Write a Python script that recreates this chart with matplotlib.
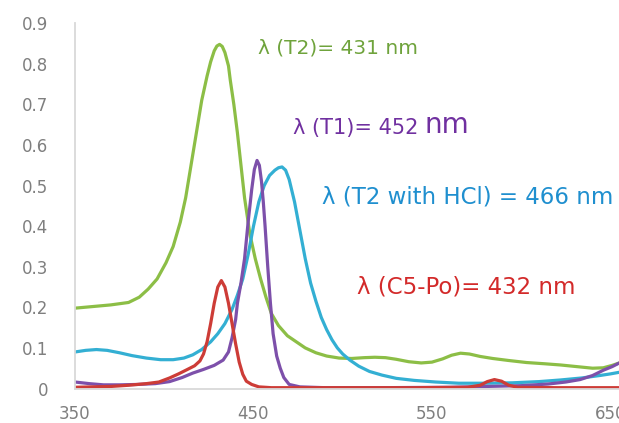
import matplotlib
matplotlib.use("Agg")
import matplotlib.pyplot as plt
from matplotlib.ticker import FixedLocator, FixedFormatter

# Absorption spectra (wavelength in nm, absorbance)
t2_nm = [350, 360, 370, 380, 386, 391, 396, 401, 405, 409, 412, 415, 418, 421, 424,
         426, 428, 429.5, 431, 432.5, 434, 436, 437, 439, 441, 443, 445, 448, 451, 454,
         457, 460, 464, 469, 474, 479, 485, 491, 498, 505, 512, 518, 524, 530, 537, 544,
         550, 556, 561, 566, 571, 577, 584, 593, 603, 613, 622, 631, 640, 646, 651, 655]
t2_abs = [0.198, 0.202, 0.206, 0.212, 0.225, 0.245, 0.27, 0.31, 0.35, 0.41, 0.47, 0.55,
          0.63, 0.71, 0.77, 0.805, 0.832, 0.844, 0.848, 0.843, 0.828, 0.795, 0.76, 0.70,
          0.63, 0.55, 0.47, 0.38, 0.32, 0.27, 0.225, 0.185, 0.155, 0.13, 0.115, 0.10,
          0.088, 0.08, 0.075, 0.074, 0.076, 0.077, 0.076, 0.072, 0.066, 0.063, 0.065,
          0.073, 0.082, 0.087, 0.085, 0.079, 0.074, 0.069, 0.064, 0.061, 0.058, 0.054,
          0.05, 0.051, 0.057, 0.063]

t2hcl_nm = [350, 356, 362, 368, 375, 382, 390, 398, 405, 411, 416, 421, 426, 430, 434,
            438, 441, 444, 447, 450, 453, 456, 459, 462, 464, 466, 468, 470, 473, 476,
            479, 482, 485, 488, 491, 494, 497, 500, 504, 509, 515, 522, 530, 540, 552,
            565, 580, 595, 610, 622, 634, 644, 650, 655]
t2hcl_abs = [0.09, 0.094, 0.096, 0.094, 0.088, 0.081, 0.075, 0.071, 0.071, 0.075, 0.083,
             0.096, 0.115, 0.135, 0.16, 0.195, 0.23, 0.27, 0.33, 0.40, 0.46, 0.50, 0.525,
             0.538, 0.544, 0.546, 0.538, 0.515, 0.46, 0.39, 0.32, 0.26, 0.215, 0.175,
             0.145, 0.12, 0.10, 0.085, 0.07, 0.055, 0.042, 0.033, 0.025, 0.02, 0.016,
             0.013, 0.013, 0.014, 0.017, 0.021, 0.026, 0.032, 0.036, 0.04]

t1_nm = [350, 358, 366, 375, 385, 395, 403, 410, 416, 422, 428, 433, 436, 438, 440,
         441, 443, 445, 447, 449, 450.5, 452, 453.3, 454.5, 455.5, 456.5, 458, 459.5, 461,
         463, 465, 467, 470, 476, 490, 520, 560, 580, 600, 615, 625, 633, 640, 646, 651,
         655]
t1_abs = [0.016, 0.012, 0.009, 0.009, 0.01, 0.012, 0.017, 0.027, 0.038, 0.047, 0.057,
          0.07, 0.09, 0.125, 0.17, 0.21, 0.26, 0.32, 0.41, 0.49, 0.54, 0.562, 0.55,
          0.51, 0.46, 0.40, 0.30, 0.21, 0.135, 0.08, 0.05, 0.027, 0.01, 0.004, 0.002,
          0.002, 0.003, 0.005, 0.007, 0.011, 0.016, 0.022, 0.032, 0.045, 0.054, 0.063]

c5po_nm = [350, 360, 370, 380, 390, 397, 403, 408, 413, 417, 420, 422, 424, 426, 428,
           430, 432, 434, 436, 438, 440, 442, 444, 446, 449, 453, 460, 500, 540, 570,
           577, 581, 585, 589, 593, 598, 620, 655]
c5po_abs = [0.003, 0.004, 0.005, 0.008, 0.012, 0.016, 0.026, 0.036, 0.047, 0.056, 0.068,
            0.085, 0.115, 0.16, 0.21, 0.25, 0.266, 0.25, 0.21, 0.16, 0.11, 0.065, 0.035,
            0.018, 0.01, 0.004, 0.002, 0.002, 0.002, 0.003, 0.008, 0.017, 0.022, 0.018,
            0.008, 0.003, 0.002, 0.002]

x_ticks = [350, 450, 550, 650]
y_ticks = [0, 0.1, 0.2, 0.3, 0.4, 0.5, 0.6, 0.7, 0.8, 0.9]
y_tick_labels = ["0", "0.1", "0.2", "0.3", "0.4", "0.5", "0.6", "0.7", "0.8", "0.9"]

fig = plt.figure(figsize=(6.19, 4.23), dpi=100)
ax = fig.add_axes([75 / 619, 34.5 / 423, 544 / 619, 365.2 / 423])

style = dict(lw=2.3, solid_capstyle="round", solid_joinstyle="round")
ax.plot(t2_nm, t2_abs, color="#8CBE46", **style)
ax.plot(t2hcl_nm, t2hcl_abs, color="#33AFD3", **style)
ax.plot(t1_nm, t1_abs, color="#7D50AA", **style)
ax.plot(c5po_nm, c5po_abs, color="#CD3C37", **style)

ax.set_xlim(350, 654.8)
ax.set_ylim(0, 0.9)

for side in ("top", "right"):
    ax.spines[side].set_visible(False)
for side in ("left", "bottom"):
    ax.spines[side].set_color("#D9D9D9")
    ax.spines[side].set_linewidth(1.3)

ax.xaxis.set_major_locator(FixedLocator(x_ticks))
ax.yaxis.set_major_locator(FixedLocator(y_ticks))
ax.yaxis.set_major_formatter(FixedFormatter(y_tick_labels))
ax.tick_params(axis="both", length=0, labelcolor="#7F7F7F", labelsize=12)
ax.tick_params(axis="y", pad=19)
ax.tick_params(axis="x", pad=12)

ax.text(452.5, 0.84, "λ (T2)= 431 nm", color="#6FA33C", fontsize=14.5, va="center", ha="left")
t1 = ax.text(472, 0.642, "λ (T1)= 452 ", color="#7030A0", fontsize=15, va="center", ha="left")
ax.annotate("nm", xy=(1, 0), xycoords=t1, xytext=(0, -1), textcoords="offset points",
            color="#7030A0", fontsize=20, va="bottom", ha="left")
ax.text(488.4, 0.472, "λ (T2 with HCl) = 466 nm", color="#1F8FCF", fontsize=16.5,
        va="center", ha="left")
ax.text(508, 0.249, "λ (C5-Po)= 432 nm", color="#D32A2A", fontsize=16.5,
        va="center", ha="left")

fig.savefig("out.png", dpi=100)
